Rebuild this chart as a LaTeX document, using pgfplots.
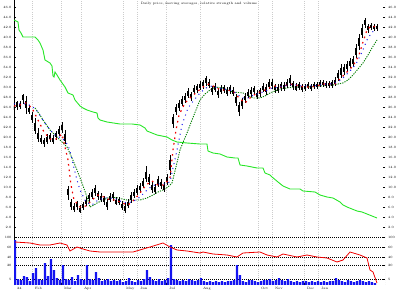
\documentclass[border=0pt]{standalone}
\usepackage{pgfplots}
\usepackage{pgfplotstable}
\pgfplotsset{compat=1.18}
\definecolor{lgreen}{RGB}{40,230,40}
\definecolor{dgreen}{RGB}{0,125,0}
\definecolor{vblue}{RGB}{20,20,240}
\definecolor{mared}{RGB}{240,0,0}

\pgfplotstableread{
x y ep em bp bm
14 129 4 5 2 2
17 133 3 6 2 3
20 131 5 3 2 1
23 139 4 6 3 2
26 133 8 10 3 4
29 127 5 4 2 2
32 119 6 5 3 2
35 109 10 6 5 3
38 101 8 6 3 3
41 97 5 4 2 2
44 95 4 5 2 2
47 97 6 4 3 2
50 100 4 5 2 2
53 97 5 4 2 2
56 102 4 5 2 2
59 105 6 4 3 2
62 109 6 5 3 2
65 99 8 6 4 3
68 45 6 8 3 3
71 32 6 5 3 2
74 29 5 4 2 2
77 32 4 5 2 2
80 27 5 3 2 2
83 31 4 4 2 2
86 35 5 4 2 2
89 40 4 5 2 2
92 42 6 4 3 2
95 47 5 6 2 3
98 42 4 5 2 2
101 39 5 4 2 2
104 37 4 5 2 2
107 33 5 6 2 3
110 39 5 4 2 2
113 41 4 5 2 2
116 35 5 3 2 2
119 36 4 4 2 2
122 31 5 4 2 2
125 28 6 4 3 2
128 33 5 4 2 2
131 39 6 5 3 2
134 43 5 4 2 2
137 46 6 4 3 2
140 49 5 5 2 2
143 53 6 4 3 2
146 61 10 6 4 3
149 57 6 5 3 2
152 50 5 6 2 3
155 47 6 4 3 2
158 55 6 5 3 2
161 53 5 5 2 2
164 49 6 4 3 2
167 57 6 5 3 2
170 72 10 10 5 5
173 117 6 8 3 4
176 127 6 5 3 2
179 132 5 6 2 3
182 135 6 4 3 2
185 139 5 5 2 2
188 143 6 4 3 2
191 141 4 5 2 2
194 147 5 4 2 2
197 149 4 5 2 2
200 151 5 4 2 2
203 153 4 5 2 2
206 157 4 6 2 3
209 153 5 4 2 2
212 147 4 5 2 2
215 149 5 4 2 2
218 144 4 5 2 2
221 147 5 4 2 2
224 148 4 4 2 2
227 145 5 4 2 2
230 148 4 5 2 2
233 145 5 4 2 2
236 137 6 6 3 3
239 129 6 8 3 4
242 133 6 5 3 2
245 139 5 5 2 2
248 143 5 4 2 2
251 145 5 5 2 2
254 147 4 5 2 2
257 142 5 4 2 2
260 145 4 5 2 2
263 149 5 4 2 2
266 147 6 5 3 2
269 152 6 4 3 2
272 153 5 5 2 2
275 149 4 5 2 2
278 148 5 4 2 2
281 151 4 5 2 2
284 150 5 4 2 2
287 153 5 4 2 2
290 157 5 6 2 3
293 152 4 5 2 2
296 149 5 3 2 2
299 151 4 4 2 2
302 149 4 4 2 2
305 150 3 4 1 2
308 151 4 3 2 1
311 150 3 4 1 2
314 151 4 3 2 1
317 152 3 4 1 2
320 153 4 3 2 1
323 154 3 4 1 2
326 152 4 3 2 1
329 153 3 4 1 2
332 153 4 4 2 2
335 155 5 4 2 2
338 161 6 5 3 2
341 165 8 6 4 3
344 167 6 5 3 2
347 171 5 6 2 3
350 173 6 4 3 2
353 175 6 5 3 2
356 185 8 6 4 3
359 195 8 8 4 4
362 205 8 6 4 3
365 215 4 6 2 3
368 209 4 5 2 2
371 211 3 4 1 2
374 209 4 3 2 1
377 210 3 4 1 2
}\candles

\pgfplotstableread{
x y
14 131
20 132
26 134
32 129
38 117
44 105
50 98
56 98
62 103
68 77
71 52
74 37
80 30
86 31
92 37
98 42
104 40
110 37
116 37
122 34
128 32
134 37
140 44
146 52
152 56
158 52
164 52
170 59
173 87
176 107
179 122
185 134
191 140
197 145
203 150
209 153
215 150
221 147
227 147
233 146
239 139
245 134
251 140
257 144
263 146
269 149
275 151
281 150
287 152
293 153
299 151
305 150
311 150
317 151
323 153
329 153
335 153
341 159
347 165
353 171
359 182
363 195
367 207
371 211
377 210
}\redma

\pgfplotstableread{
x y
14 133
20 133
26 133
32 131
38 125
44 115
50 107
56 101
62 99
68 92
71 82
74 69
77 57
80 47
86 35
92 32
98 37
104 39
110 39
116 38
122 35
128 34
134 36
140 40
146 46
152 51
158 53
164 53
170 55
173 69
176 82
179 97
182 112
188 129
194 137
200 144
206 149
212 151
218 149
224 148
230 147
236 144
242 139
248 139
254 142
260 144
266 146
272 149
278 150
284 151
290 152
296 152
302 151
308 151
314 151
320 152
326 153
332 153
338 155
344 160
350 166
356 173
362 185
367 197
372 205
377 207
}\bluema

\pgfplotstableread{
x y
35 129
40 122
43 117
50 107
60 97
67 90
72 79
77 67
82 54
87 40
90 30
94 32
97 34
103 37
110 40
118 39
127 37
135 37
140 37
147 39
153 42
158 45
163 47
168 50
172 54
176 70
180 87
184 97
187 104
192 117
196 127
200 137
205 143
210 147
215 150
223 149
233 145
243 144
253 139
260 139
265 141
270 144
280 148
293 150
307 150
320 151
333 152
343 154
348 157
353 162
358 168
363 174
368 182
372 189
377 197
}\slowma

\pgfplotstableread{
x y
14 217
18 215
19 207
21 204
23 200
30 200
35 200
38 197
40 194
43 187
45 177
50 174
52 171
53 161
54 160
55 165
57 162
60 157
65 150
68 144
73 142
75 137
80 131
83 129
87 127
93 125
97 124
98 119
100 117
107 115
120 113
132 113
140 112
145 109
147 106
152 104
157 102
162 101
167 100
172 97
177 95
187 94
200 93
207 93
208 86
213 84
220 83
227 80
235 79
238 79
240 72
247 71
257 69
263 69
265 64
270 62
272 60
278 55
283 51
290 48
300 48
303 46
315 45
320 42
327 40
333 39
340 35
343 32
347 30
352 28
357 26
362 25
367 23
372 21
377 19
}\rsline

\pgfplotstableread{
x y
15 45
18 6
21 5
24 9
27 8
30 4
33 12
36 17
39 6
42 5
45 22
48 9
51 26
54 15
57 7
60 5
63 20
66 6
69 5
72 8
75 4
78 10
81 6
84 5
87 20
90 6
93 5
96 13
99 7
102 4
105 5
108 6
111 4
114 5
117 4
120 5
123 3
126 4
129 7
132 4
135 3
138 5
141 4
144 6
147 15
150 8
153 5
156 4
159 6
162 4
165 5
168 7
171 40
174 6
177 5
180 4
183 5
186 4
189 6
192 5
195 4
198 5
201 7
204 4
207 3
210 4
213 3
216 4
219 3
222 4
225 3
228 4
231 4
234 5
237 20
240 10
243 4
246 3
249 5
252 5
255 4
258 3
261 4
264 5
267 5
270 6
273 4
276 5
279 7
282 5
285 4
288 6
291 4
294 3
297 4
300 3
303 4
306 4
309 3
312 4
315 3
318 4
321 3
324 4
327 3
330 4
333 4
336 7
339 5
342 4
345 3
348 5
351 4
354 3
357 4
360 5
363 4
366 3
369 4
372 3
375 2
}\volume

\pgfplotstableread{
x y
15 43
30 42
40 40
50 40
60 42
67 40
70 34
77 38
83 36
90 34
100 33
113 33
133 33
150 38
163 42
170 38
177 35
187 34
200 32
203 33
213 31
227 30
237 28
243 32
260 33
267 30
277 28
283 31
297 28
307 30
317 28
327 27
337 23
343 25
350 33
360 30
367 27
370 15
373 13
377 2
}\strength

\pgfplotsset{
  chartbase/.style={
    scale only axis, width=371bp,
    xmin=14, xmax=385,
    axis line style={draw=none},
    tick style={black, line width=0.4bp},
    major tick length=2bp,
    tick label style={font=\fontsize{3.3}{3.6}\selectfont},
    every axis x grid/.style={gray!40, line width=0.45bp, dash pattern=on 1bp off 1.2bp},
  },
}

\begin{document}
\begin{tikzpicture}
\useasboundingbox (0bp,0bp) rectangle (400bp,295bp);

% ---------------- main price panel ----------------
\begin{axis}[chartbase,
  at={(14bp,58bp)}, anchor=south west, height=237bp,
  ymin=0, ymax=237,
  xtick={32,61,81,123,137,166,200,258,272,304,318},
  xticklabels={}, major x tick style={draw=none},
  xmajorgrids,
  ytick={10,20,30,40,50,60,70,80,90,100,110,120,130,140,150,160,170,180,190,200,210,220,230},
  yticklabels={2.0,4.0,6.0,8.0,10.0,12.0,14.0,16.0,18.0,20.0,22.0,24.0,26.0,28.0,30.0,32.0,34.0,36.0,38.0,40.0,42.0,44.0,46.0},
  ytick pos=left,
  yticklabel style={xshift=1bp},
]
\draw[black, line width=0.5bp] (rel axis cs:0,0) -- (rel axis cs:0,1);
\draw[gray!45, line width=0.5bp, dash pattern=on 1bp off 1.2bp] (rel axis cs:1,0) -- (rel axis cs:1,1);
\draw[black, line width=0.6bp, dash pattern=on 1bp off 1bp] (rel axis cs:0,0) -- (rel axis cs:1,0);

\addplot[lgreen, line width=0.9bp, mark=none] table[x=x,y=y]{\rsline};
\addplot[dgreen, line width=0.9bp, dash pattern=on 1.2bp off 1.2bp, mark=none] table[x=x,y=y]{\slowma};
\addplot[only marks, mark size=0pt,
  error bars/.cd, y dir=both, y explicit, error mark=none,
  error bar style={draw=black, line width=0.7bp}]
  table[x=x, y=y, y error plus=ep, y error minus=em]{\candles};
\addplot[only marks, mark size=0pt,
  error bars/.cd, y dir=both, y explicit, error mark=none,
  error bar style={draw=black, line width=1.6bp}]
  table[x=x, y=y, y error plus=bp, y error minus=bm]{\candles};
\addplot[mared, line width=1.2bp, dash pattern=on 1.6bp off 4bp, mark=none] table[x=x,y=y]{\redma};
\addplot[vblue, line width=1.0bp, dash pattern=on 1bp off 4bp, mark=none] table[x=x,y=y]{\bluema};
\end{axis}

% right-hand labels of the main panel
\begin{axis}[chartbase,
  at={(14bp,58bp)}, anchor=south west, height=237bp,
  ymin=0, ymax=237,
  xtick=\empty,
  ytick={10,20,30,40,50,60,70,80,90,100,110,120,130,140,150,160,170,180,190,200,210,220,230},
  yticklabels={2.0,4.0,6.0,8.0,10.0,12.0,14.0,16.0,18.0,20.0,22.0,24.0,26.0,28.0,30.0,32.0,34.0,36.0,38.0,40.0,42.0,44.0,46.0},
  ytick pos=right, yticklabel pos=right,
  yticklabel style={xshift=-0.5bp},
]
\addplot[draw=none, mark=none] coordinates {(14,0)};
\end{axis}

% ---------------- lower panel ----------------
\begin{axis}[chartbase,
  at={(14bp,10bp)}, anchor=south west, height=48bp,
  ymin=0, ymax=48,
  xtick={14,32,61,81,123,137,166,200,258,272,304,318},
  xticklabels={24,Feb,Mar,Apr,May,Jun,Jul,Aug,Oct,Nov,Dec,Jan},
  xtick pos=bottom,
  xticklabel style={anchor=north west, xshift=-0.5bp, yshift=1bp},
  xmajorgrids,
  ytick={6,20,28,38,48},
  yticklabels={5,20,40,60,100},
  ytick pos=left,
  yticklabel style={xshift=1bp},
  ymajorgrids,
  every axis y grid/.style={black, line width=0.5bp, dash pattern=on 1bp off 1bp},
]
\draw[black, line width=0.5bp] (rel axis cs:0,0) -- (rel axis cs:0,1);
\draw[gray!45, line width=0.5bp, dash pattern=on 1bp off 1.2bp] (rel axis cs:1,0) -- (rel axis cs:1,1);
\draw[black, line width=0.6bp, dash pattern=on 1bp off 1bp] (rel axis cs:0,0) -- (rel axis cs:1,0);
\addplot[ybar, bar width=2.2bp, bar shift=0pt, fill=vblue, draw=none] table[x=x,y=y]{\volume};
\addplot[mared, line width=0.8bp, mark=none] table[x=x,y=y]{\strength};
\end{axis}

\begin{axis}[chartbase,
  at={(14bp,10bp)}, anchor=south west, height=48bp,
  ymin=0, ymax=48,
  xtick=\empty,
  ytick={6,20,28,38,48},
  yticklabels={5,20,40,60,100},
  ytick pos=right, yticklabel pos=right,
  yticklabel style={xshift=-0.5bp},
]
\addplot[draw=none, mark=none] coordinates {(14,0)};
\end{axis}

\node[font=\fontsize{3.3}{3.6}\selectfont, anchor=north, inner sep=0pt] at (199bp,293bp)
  {Daily price, moving averages, relative strength and volume};
\end{tikzpicture}
\end{document}
